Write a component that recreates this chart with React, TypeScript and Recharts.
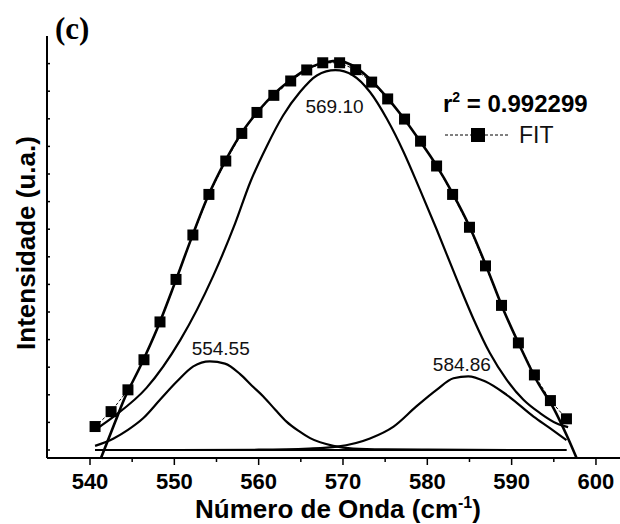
import { LineChart, Line, XAxis, YAxis, ReferenceDot } from "recharts";

// measured spectrum (squares)
const fitX = [540.6, 542.5, 544.5, 546.4, 548.3, 550.2, 552.2, 554.1, 556.1, 558.0, 559.8, 561.8, 563.8, 565.7, 567.6, 569.6, 571.5, 573.4, 575.3, 577.3, 579.2, 581.1, 583.0, 585.0, 586.9, 588.8, 590.8, 592.7, 594.6, 596.5];
const fitY = [0.85, 1.39, 2.18, 3.27, 4.64, 6.18, 7.79, 9.26, 10.47, 11.47, 12.23, 12.85, 13.37, 13.77, 14.03, 14.03, 13.78, 13.33, 12.72, 11.99, 11.19, 10.29, 9.26, 8.07, 6.67, 5.24, 3.88, 2.72, 1.79, 1.13];

// cumulative fit curve
const sumX = [541.3, 542, 543, 544, 546, 548, 550, 552, 554, 556, 558, 560, 562, 564, 566, 568, 569.5, 571, 573, 575, 577, 579, 581, 583, 585, 587, 589, 591, 593, 595, 596.5, 597.7];
const sumY = [-0.29, 0.25, 1.03, 1.8, 3.05, 4.42, 6.0, 7.65, 9.2, 10.45, 11.5, 12.3, 12.95, 13.45, 13.85, 14.05, 14.1, 13.95, 13.5, 12.85, 12.1, 11.25, 10.35, 9.3, 8.1, 6.65, 5.1, 3.75, 2.5, 1.5, 0.55, -0.29];

// component 554.55
const p1X = [540.6, 542.8, 544.5, 546.3, 548.3, 550.3, 552.25, 554.2, 556.0, 557.8, 559.2, 560.55, 562.0, 563.3, 564.7, 566.1, 568.85, 571.2, 575, 580, 590, 596.5];
const p1Y = [0.15, 0.42, 0.73, 1.15, 1.82, 2.48, 3.03, 3.21, 3.13, 2.75, 2.33, 1.94, 1.45, 1.03, 0.7, 0.43, 0.15, 0.05, 0.02, 0.01, 0, 0];

// component 569.10
const p2X = [540.6, 542.8, 546.7, 550.7, 554.6, 557.2, 559.0, 560.95, 562.9, 564.9, 566.9, 569.1, 571.2, 573.2, 575.2, 577.2, 579.1, 581.1, 583.5, 585.5, 587.4, 589.4, 591.4, 593.4, 595.3, 596.7];
const p2Y = [0.73, 1.21, 2.25, 3.98, 6.3, 8.2, 9.7, 11.0, 12.12, 12.97, 13.57, 13.76, 13.57, 12.97, 12.0, 10.79, 9.45, 8.0, 6.18, 4.73, 3.52, 2.55, 1.82, 1.33, 0.97, 0.83];

// component 584.86
const p3X = [540.6, 550, 560, 566, 569.3, 573.2, 576.0, 578.7, 581.1, 583.1, 584.86, 586.9, 589.4, 592.6, 594.5, 596.5];
const p3Y = [0, 0, 0.01, 0.05, 0.12, 0.42, 0.85, 1.58, 2.18, 2.6, 2.67, 2.48, 2.0, 1.21, 0.8, 0.36];

const baseX = [540.6, 596.5];
const baseY = [0, 0];

const xTicks = [540, 545, 550, 555, 560, 565, 570, 575, 580, 585, 590, 595, 600];
const yTicks = [0, 1, 2, 3, 4, 5, 6, 7, 8, 9, 10, 11, 12, 13, 14];

const peakLabels = [
  { x: 555.5, y: 3.67, text: "554.55" },
  { x: 569.0, y: 12.45, text: "569.10" },
  { x: 584.1, y: 3.11, text: "584.86" },
];

const toPts = (xs: number[], ys: number[]) => xs.map((x, i) => ({ x, y: ys[i] }));

const SANS = "'Liberation Sans', Arial, sans-serif";

function XTick(props: any) {
  const { x, y, payload } = props;
  const major = payload.value % 10 === 0;
  return (
    <g>
      <line x1={x} x2={x} y1={y} y2={y + (major ? 7 : 4)} stroke="#000" strokeWidth={1.5} />
      {major && (
        <text x={x} y={y + 31} textAnchor="middle" fontFamily={SANS} fontWeight="bold" fontSize={22} fill="#000">
          {payload.value}
        </text>
      )}
    </g>
  );
}

function YTick(props: any) {
  const { x, y } = props;
  return <line x1={x} x2={x + 3} y1={y} y2={y} stroke="#000" strokeWidth={1.5} />;
}

function Square(props: any) {
  const { cx, cy } = props;
  if (cx == null || cy == null) return null;
  return <rect x={cx - 5.5} y={cy - 5.5} width={11} height={11} fill="#000" />;
}

export default function App() {
  return (
    <div style={{ width: 620, height: 524, background: "#fff" }}>
      <style>{"body{margin:0}"}</style>
      <LineChart width={620} height={524} margin={{ top: 36, right: 0, left: 46, bottom: 65 }}>
        <XAxis
          type="number"
          dataKey="x"
          domain={[534.9, 602.85]}
          ticks={xTicks}
          interval={0}
          allowDataOverflow
          height={1}
          tickSize={0}
          tickMargin={0}
          tickLine={false}
          tick={<XTick />}
          axisLine={{ stroke: "#000", strokeWidth: 2 }}
        />
        <YAxis
          type="number"
          dataKey="y"
          domain={[-0.29, 15]}
          ticks={yTicks}
          interval={0}
          allowDataOverflow
          width={1}
          tickSize={0}
          tickMargin={0}
          tickLine={false}
          tick={<YTick />}
          axisLine={{ stroke: "#000", strokeWidth: 2 }}
        />
        <Line data={toPts(baseX, baseY)} dataKey="y" type="linear" stroke="#000" strokeWidth={2.2} dot={false} isAnimationActive={false} />
        <Line data={toPts(p1X, p1Y)} dataKey="y" type="monotone" stroke="#000" strokeWidth={2.2} dot={false} isAnimationActive={false} />
        <Line data={toPts(p2X, p2Y)} dataKey="y" type="monotone" stroke="#000" strokeWidth={2.2} dot={false} isAnimationActive={false} />
        <Line data={toPts(p3X, p3Y)} dataKey="y" type="monotone" stroke="#000" strokeWidth={2.2} dot={false} isAnimationActive={false} />
        <Line data={toPts(sumX, sumY)} dataKey="y" type="monotone" stroke="#000" strokeWidth={2.6} dot={false} isAnimationActive={false} />
        <Line
          data={toPts(fitX, fitY)}
          dataKey="y"
          type="linear"
          stroke="#000"
          strokeWidth={1}
          strokeDasharray="3 2"
          dot={<Square />}
          isAnimationActive={false}
        />
        {peakLabels.map((p) => (
          <ReferenceDot
            key={p.text}
            x={p.x}
            y={p.y}
            r={0}
            fill="none"
            stroke="none"
            label={{ value: p.text, position: "center", fontSize: 19, fill: "#111", fontFamily: SANS }}
          />
        ))}
        <text x={55} y={39} fontFamily="'Liberation Serif', 'Times New Roman', serif" fontWeight="bold" fontSize={31} fill="#000">
          (c)
        </text>
        <text x={443} y={112} fontFamily={SANS} fontWeight="bold" fontSize={24} fill="#000">
          r<tspan dy={-10} fontSize={14}>2</tspan>
          <tspan dy={10}> = 0.992299</tspan>
        </text>
        <g>
          <line x1={445} x2={510} y1={135} y2={135} stroke="#000" strokeWidth={1} strokeDasharray="3 2" />
          <rect x={471} y={128} width={14} height={14} fill="#000" />
          <text x={519} y={143} fontFamily={SANS} fontSize={23} fill="#111">
            FIT
          </text>
        </g>
        <text
          x={35}
          y={243}
          transform="rotate(-90, 35, 243)"
          textAnchor="middle"
          fontFamily={SANS}
          fontWeight="bold"
          fontSize={26}
          fill="#000"
        >
          Intensidade (u.a.)
        </text>
        <text x={338} y={518} textAnchor="middle" fontFamily={SANS} fontWeight="bold" fontSize={26} fill="#000">
          Número de Onda (cm<tspan dy={-10} fontSize={16}>-1</tspan>
          <tspan dy={10}>)</tspan>
        </text>
      </LineChart>
    </div>
  );
}
